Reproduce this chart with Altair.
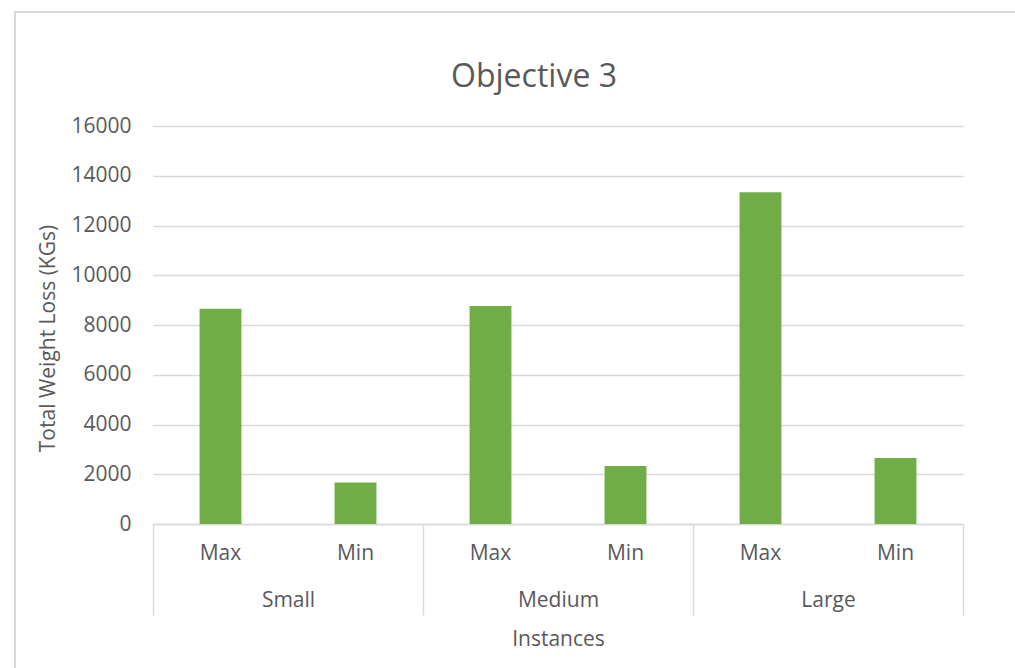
import altair as alt
import pandas as pd

groups = ["Small", "Small", "Medium", "Medium", "Large", "Large"]
levels = ["Max", "Min", "Max", "Min", "Max", "Min"]
values = [8650, 1670, 8760, 2330, 13340, 2650]
group_order = ["Small", "Medium", "Large"]
y_ticks = [0, 2000, 4000, 6000, 8000, 10000, 12000, 14000, 16000]
chart_title = ["Objective 3"]

keys = [f"{g}-{l}" for g, l in zip(groups, levels)]
df = pd.DataFrame({"group": groups, "level": levels, "key": keys, "value": values})
gdf = pd.DataFrame({"group": group_order})
tdf = pd.DataFrame({"t": chart_title})

FONT = "Open Sans"
GRAY = "#595959"
LINE = "#d9d9d9"
FS = 21

bars = alt.Chart(df).mark_bar(color="#70ad47", width=alt.RelativeBandSize(0.31)).encode(
    x=alt.X(
        "key:N",
        sort=keys,
        scale=alt.Scale(paddingInner=0, paddingOuter=0),
        axis=alt.Axis(
            title=None,
            orient="bottom",
            labelExpr="split(datum.label, '-')[1]",
            ticks=False,
            domain=False,
            labelPadding=18,
            labelAngle=0,
            labelFontSize=FS,
            labelColor=GRAY,
            labelFont=FONT,
        ),
    ),
    y=alt.Y(
        "value:Q",
        scale=alt.Scale(domain=[0, 16000]),
        axis=alt.Axis(
            title="Total Weight Loss (KGs)",
            values=y_ticks,
            format="d",
            grid=True,
            gridColor=LINE,
            gridWidth=1.5,
            domain=False,
            ticks=False,
            labelPadding=22,
            labelFontSize=FS,
            labelColor=GRAY,
            labelFont=FONT,
            titleFontSize=FS,
            titleFontWeight="normal",
            titleColor=GRAY,
            titleFont=FONT,
            titlePadding=12,
            titleY=212,
        ),
    ),
)

grp = alt.Chart(gdf).mark_text(text="", opacity=0).encode(
    x=alt.X(
        "group:N",
        sort=group_order,
        scale=alt.Scale(paddingInner=0, paddingOuter=0),
        axis=alt.Axis(
            title="Instances",
            orient="bottom",
            tickBand="extent",
            tickSize=91,
            tickColor=LINE,
            tickWidth=1.5,
            domainColor=LINE,
            domainWidth=1.5,
            labelPadding=-26,
            labelAngle=0,
            labelFontSize=FS,
            labelColor=GRAY,
            labelFont=FONT,
            titleFontSize=FS,
            titleFontWeight="normal",
            titleColor=GRAY,
            titleFont=FONT,
            titlePadding=13,
        ),
    ),
)

title = alt.Chart(tdf).mark_text(
    font=FONT, fontSize=32, color=GRAY, baseline="middle", align="center"
).encode(text="t:N", x=alt.value(381), y=alt.value(-49))

frame = alt.Chart(gdf).mark_rect(fill=None, stroke="#d9d9d9", strokeWidth=1.5).encode(
    x=alt.value(-138), x2=alt.value(870), y=alt.value(-114), y2=alt.value(560)
)

chart = (
    alt.layer(frame, title, bars, grp)
    .resolve_scale(x="independent")
    .properties(
        width=810,
        height=398,
        autosize=alt.AutoSizeParams(type="none"),
        padding={"left": 153, "top": 126, "right": 52, "bottom": 144},
    )
    .configure_view(stroke=None)
)

chart.save("out.html", embed_options={"renderer": "svg", "actions": False})
